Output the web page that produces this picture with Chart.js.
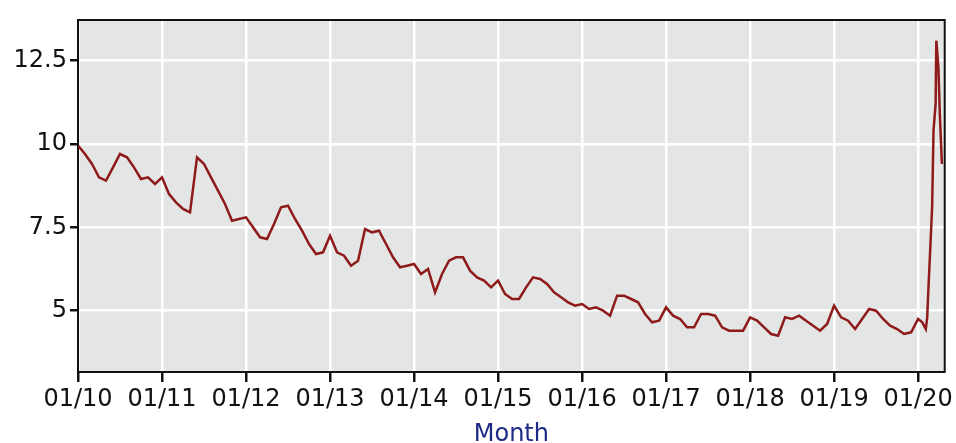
<!DOCTYPE html>
<html>
<head>
<meta charset="utf-8">
<script src="https://cdn.jsdelivr.net/npm/chart.js@4"></script>
<style>
  body { margin: 0; background: #fff; }
  #wrap { width: 956px; height: 443px; }
</style>
</head>
<body>
<div id="wrap"><canvas id="chart"></canvas></div>
<script>
// monthly rate, Jan 2010 .. Jan 2020 (index = months since Jan 2010)
const monthlyRate = [
  9.95, 9.7, 9.4, 9.0, 8.9, 9.3, 9.7, 9.6, 9.3, 8.95, 9.0, 8.8,
  9.0, 8.5, 8.25, 8.05, 7.95, 9.6, 9.4, 9.0, 8.6, 8.2, 7.7, 7.75,
  7.8, 7.5, 7.2, 7.15, 7.6, 8.1, 8.15, 7.75, 7.4, 7.0, 6.7, 6.75,
  7.25, 6.75, 6.65, 6.35, 6.5, 7.45, 7.35, 7.4, 7.0, 6.6, 6.3, 6.35,
  6.4, 6.1, 6.25, 5.55, 6.1, 6.5, 6.6, 6.6, 6.2, 6.0, 5.9, 5.7,
  5.9, 5.5, 5.35, 5.35, 5.7, 6.0, 5.95, 5.8, 5.55, 5.4, 5.25, 5.15,
  5.2, 5.05, 5.1, 5.0, 4.85, 5.45, 5.45, 5.35, 5.25, 4.9, 4.65, 4.7,
  5.1, 4.85, 4.75, 4.5, 4.5, 4.9, 4.9, 4.85, 4.5, 4.4, 4.4, 4.4,
  4.8, 4.7, 4.5, 4.3, 4.25, 4.8, 4.75, 4.85, 4.7, 4.55, 4.4, 4.6,
  5.15, 4.8, 4.7, 4.45, 4.75, 5.05, 5.0, 4.75, 4.55, 4.45, 4.3, 4.35,
  4.75
];

// 2020 readings at finer spacing (months since Jan 2010)
const lateMonths = [120.6, 121.1, 121.3, 121.5, 121.7, 122.0, 122.2, 122.5, 122.6, 122.9, 123.1, 123.4];
const lateRate   = [4.65, 4.45, 4.8, 5.8, 6.7, 8.1, 10.4, 11.2, 13.1, 12.3, 10.9, 9.4];

const xTicks = [0, 12, 24, 36, 48, 60, 72, 84, 96, 108, 120];
const yTicks = [5, 7.5, 10, 12.5];

const points = monthlyRate.map((v, i) => ({ x: i, y: v }))
  .concat(lateMonths.map((m, i) => ({ x: m, y: lateRate[i] })));

const FONT = 'DejaVu Sans';

// grey panel behind the plot and a frame on top/right
const panel = {
  id: 'panel',
  beforeDraw(chart) {
    const { ctx, chartArea: a } = chart;
    ctx.save();
    ctx.fillStyle = '#e4e6e6';
    ctx.fillRect(a.left, a.top, a.right - a.left, a.bottom - a.top);
    ctx.restore();
  },
  afterDraw(chart) {
    const { ctx, chartArea: a } = chart;
    ctx.save();
    ctx.strokeStyle = '#111';
    ctx.lineWidth = 2;
    ctx.beginPath();
    ctx.moveTo(a.left, a.top);
    ctx.lineTo(a.right, a.top);
    ctx.lineTo(a.right, a.bottom);
    ctx.stroke();
    ctx.restore();
  }
};

new Chart(document.getElementById('chart'), {
  type: 'line',
  data: {
    datasets: [{
      data: points,
      borderColor: '#8e1a1a',
      borderWidth: 2.5,
      pointRadius: 0,
      tension: 0,
      fill: false
    }]
  },
  options: {
    responsive: true,
    maintainAspectRatio: false,
    animation: false,
    layout: { padding: { top: 20, right: 10, left: 0, bottom: 0 } },
    plugins: { legend: { display: false }, tooltip: { enabled: false } },
    scales: {
      x: {
        type: 'linear',
        min: 0,
        max: 123.8,
        afterBuildTicks: s => { s.ticks = xTicks.map(v => ({ value: v })); },
        afterFit: s => { s.height = 71; },
        grid: { color: '#ffffff', lineWidth: 2.5, tickColor: '#111', tickLength: 10 },
        border: { display: true, color: '#111', width: 2 },
        ticks: {
          color: '#111',
          font: { family: FONT, size: 24 },
          padding: 3,
          maxRotation: 0,
          autoSkip: false,
          callback: v => '01/' + String(10 + v / 12).padStart(2, '0')
        },
        title: {
          display: true,
          text: 'Month',
          color: '#1c2a86',
          font: { family: FONT, size: 24, lineHeight: 1 },
          padding: { top: 0, bottom: -4 }
        }
      },
      y: {
        min: 3.16,
        max: 13.72,
        afterBuildTicks: s => { s.ticks = yTicks.map(v => ({ value: v })); },
        afterFit: s => { s.width = 78; },
        grid: { color: '#ffffff', lineWidth: 2.5, tickColor: '#111', tickLength: 8 },
        border: { display: true, color: '#111', width: 2 },
        ticks: {
          color: '#111',
          font: { family: FONT, size: 24 },
          padding: 3,
          callback: v => String(v)
        }
      }
    }
  },
  plugins: [panel]
});
</script>
</body>
</html>
